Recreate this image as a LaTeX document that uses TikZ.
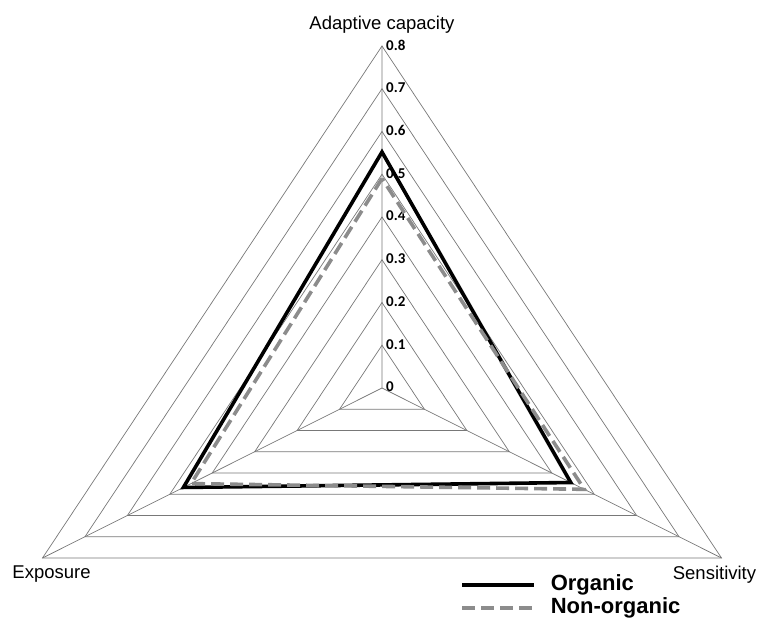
\documentclass[tikz,border=0pt]{standalone}
\usepackage{fontspec}
\setmainfont{Liberation Sans}
\newfontfamily\tickfont{Carlito}
\usetikzlibrary{positioning, calc}
\definecolor{grille}{RGB}{120,120,120}
\definecolor{gris}{RGB}{140,140,140}

\begin{document}
\begin{tikzpicture}[x=1pt, y=1pt,
		ring/.style={grille, line width=0.7pt},
		organic/.style={black, line width=3.6pt, line join=miter},
		nonorganic/.style={gris, line width=3.6pt, line join=miter, dash pattern=on 13pt off 6pt},
		axislabel/.style={inner sep=0pt, font=\fontsize{18.5}{20}\selectfont},
		ticklabel/.style={inner sep=0pt, anchor=west, font=\tickfont\fontsize{15}{16}\selectfont\bfseries},
		legendlabel/.style={inner sep=0pt, anchor=west, text=black, font=\fontsize{22}{24}\selectfont\bfseries}]
	\useasboundingbox (-382,-241) rectangle (376,388);
	% les trois axes (0.8 au bout)
	\coordinate (O) at (0,0);
	\coordinate (A) at (0,342);
	\coordinate (E) at (-339.5,-170);
	\coordinate (S) at (339.5,-170);
	% grille : un triangle par pas de 0.1
	\foreach \k in {1,...,8}
		\draw[ring] ($(O)!\k/8!(A)$) -- ($(O)!\k/8!(E)$) -- ($(O)!\k/8!(S)$) -- cycle;
	\draw[ring] (O) -- (A) (O) -- (E) (O) -- (S);
	\foreach \k/\v in {0/0, 1/0.1, 2/0.2, 3/0.3, 4/0.4, 5/0.5, 6/0.6, 7/0.7, 8/0.8}
		\node[ticklabel] (tick\k) at ($(O)!\k/8!(A)+(4,1)$) {\v};
	% valeurs
	\draw[organic] ($(O)!0.69!(A)$) -- ($(O)!0.585!(E)$) -- ($(O)!0.556!(S)$) -- cycle;
	\draw[nonorganic] ($(O)!0.6125!(A)$) -- ($(O)!0.5625!(E)$) -- ($(O)!0.596!(S)$) -- cycle;
	% noms des axes
	\node[axislabel, above=12pt of A] (adaptive) {Adaptive capacity};
	\node[axislabel, below=8pt of E, xshift=9pt] (exposure) {Exposure};
	\node[axislabel, below=8pt of S, xshift=-7pt] (sensitivity) {Sensitivity};
	% legende
	\coordinate (legorg) at (80,-197);
	\coordinate (legnon) at (80,-220);
	\draw[organic] (legorg) -- ++(72,0) node[legendlabel, right=15pt] (orglabel) {Organic};
	\draw[nonorganic] (legnon) -- ++(72,0) node[legendlabel, right=15pt] (nonlabel) {Non-organic};
\end{tikzpicture}
\end{document}
